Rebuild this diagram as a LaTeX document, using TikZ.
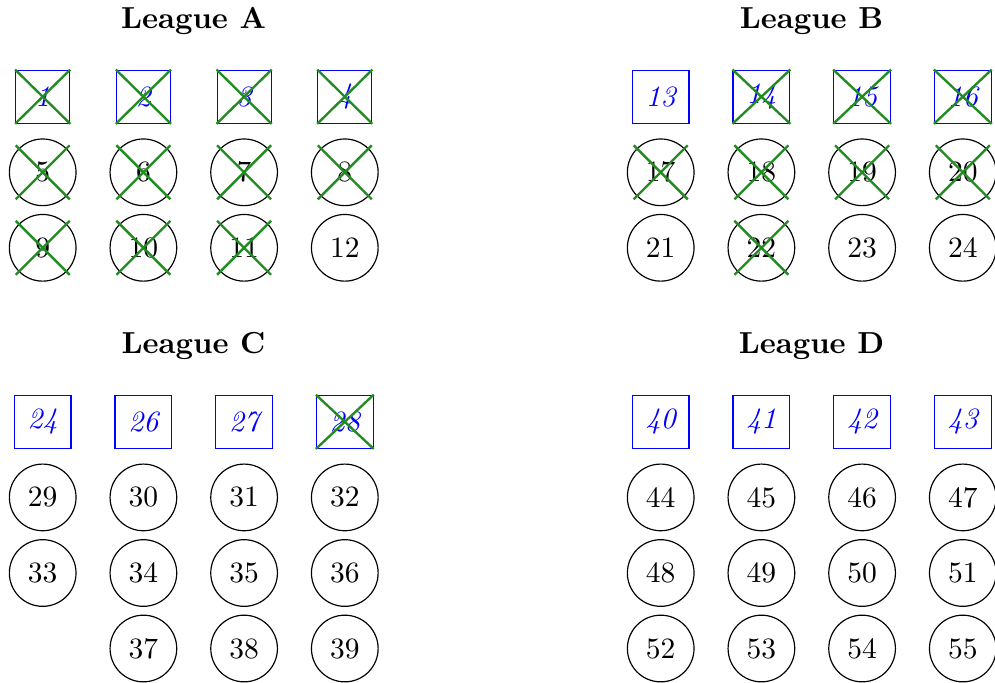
\documentclass[tikz,border=0pt]{standalone}
\definecolor{crossgreen}{RGB}{34,139,34}
\newcommand\teamrow[5]{%
  \foreach \c/\t/\k in {#5}{%
    \node[#4] (#1\t) at ({#2+100.7*\c},#3) {\t};
    \ifnum\k=1
      \draw[crossln] ([shift={(-27,-27)}]#1\t.center) -- ([shift={(27,27)}]#1\t.center)
                     ([shift={(27,-27)}]#1\t.center) -- ([shift={(-27,27)}]#1\t.center);
    \fi
    \ifnum\k=2
      \draw[crossln] (#1\t.north west) -- (#1\t.south east)
                     (#1\t.north east) -- (#1\t.south west);
    \fi
  }}
\begin{document}
\begin{tikzpicture}[x=0.339pt,y=-0.339pt,
  team/.style={circle,draw=black,line width=0.4pt,minimum size=22.6pt,inner sep=0pt},
  seed/.style={rectangle,draw=blue,line width=0.4pt,text=blue,minimum width=18.3pt,minimum height=18pt,inner xsep=4.5pt,inner ysep=0pt,font=\itshape},
  title/.style={font=\fontsize{10.3}{12}\selectfont\bfseries,anchor=base},
  crossln/.style={draw=crossgreen,line width=0.8pt}]
\useasboundingbox (0,0) rectangle (995,682);
% titles
\node[title] (ta) at (193.5,28.5) {League A};
\node[title] (tb) at (811.5,28.5) {League B};
\node[title] (tc) at (193.5,353.6) {League C};
\node[title] (td) at (811.5,353.6) {League D};
% League A
\teamrow{a}{42.7}{96.7}{seed}{0/1/2,1/2/2,2/3/2,3/4/2}
\teamrow{a}{42.7}{172.3}{team}{0/5/1,1/6/1,2/7/1,3/8/1}
\teamrow{a}{42.7}{247.8}{team}{0/9/1,1/10/1,2/11/1,3/12/0}
% League B
\teamrow{b}{660.7}{96.7}{seed}{0/13/0,1/14/2,2/15/2,3/16/2}
\teamrow{b}{660.7}{172.3}{team}{0/17/1,1/18/1,2/19/1,3/20/1}
\teamrow{b}{660.7}{247.8}{team}{0/21/0,1/22/1,2/23/0,3/24/0}
% League C
\teamrow{c}{42.7}{421.8}{seed}{0/24/0,1/26/0,2/27/0,3/28/2}
\teamrow{c}{42.7}{497.4}{team}{0/29/0,1/30/0,2/31/0,3/32/0}
\teamrow{c}{42.7}{573}{team}{0/33/0,1/34/0,2/35/0,3/36/0}
\teamrow{c}{42.7}{648.5}{team}{1/37/0,2/38/0,3/39/0}
% League D
\teamrow{d}{660.7}{421.8}{seed}{0/40/0,1/41/0,2/42/0,3/43/0}
\teamrow{d}{660.7}{497.4}{team}{0/44/0,1/45/0,2/46/0,3/47/0}
\teamrow{d}{660.7}{573}{team}{0/48/0,1/49/0,2/50/0,3/51/0}
\teamrow{d}{660.7}{648.5}{team}{0/52/0,1/53/0,2/54/0,3/55/0}
\end{tikzpicture}
\end{document}
